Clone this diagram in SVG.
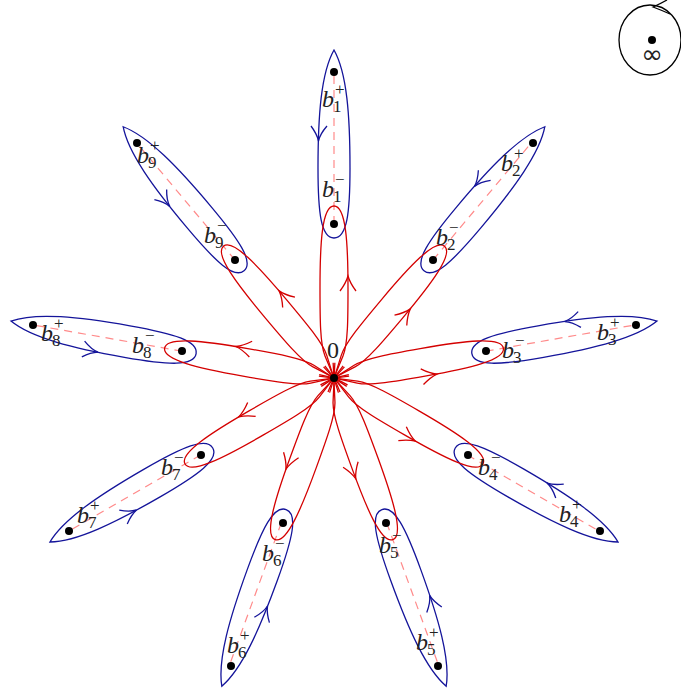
<svg xmlns="http://www.w3.org/2000/svg" xmlns:xlink="http://www.w3.org/1999/xlink" width="681" height="696" viewBox="0 0 681 696">
<style>
.bl{fill:none;stroke:#14149a;stroke-width:1.3}
.rd{fill:none;stroke:#d40000;stroke-width:1.3}
.ds{fill:none;stroke:#ff8a8a;stroke-width:1.2;stroke-dasharray:8 6}
.dot{fill:#000}
.b{font-family:"Liberation Serif",serif;font-style:italic;font-size:24px;fill:#222}
.s{font-family:"Liberation Serif",serif;font-size:17px;fill:#222}
.n{font-family:"Liberation Serif",serif;font-size:24px;fill:#222}
</style>
<defs>
<path id="blueLoop" d="M 0 -328 C 13 -305 16 -262 16 -210 C 16 -165 13 -140 0 -140 C -13 -140 -16 -165 -16 -210 C -16 -262 -13 -305 0 -328 Z"/>
<path id="blueArrow" d="M -23 -252 Q -17 -244 -15.5 -237 Q -14 -244 -7 -252"/>
<path id="redLoop" d="M 6 14 L -9 -22 C -14 -34 -14 -60 -14 -90 C -14 -135 -12 -172 0 -172 C 12 -172 14 -135 14 -90 C 14 -60 14 -34 9 -22 L -6 14"/>
<path id="redArrow" d="M 6 -87 Q 12 -95 14 -102 Q 16 -95 22 -87"/>
<line id="dashLine" x1="0" y1="-154" x2="0" y2="-306"/>
</defs>

<g id="connectors">
<g id="blue-loops" class="bl">
<use xlink:href="#blueLoop" transform="translate(334 378) rotate(0)"/>
<use xlink:href="#blueLoop" transform="translate(334 378) rotate(40)"/>
<use xlink:href="#blueLoop" transform="translate(334 378) rotate(80)"/>
<use xlink:href="#blueLoop" transform="translate(334 378) rotate(120)"/>
<use xlink:href="#blueLoop" transform="translate(334 378) rotate(160)"/>
<use xlink:href="#blueLoop" transform="translate(334 378) rotate(200)"/>
<use xlink:href="#blueLoop" transform="translate(334 378) rotate(240)"/>
<use xlink:href="#blueLoop" transform="translate(334 378) rotate(280)"/>
<use xlink:href="#blueLoop" transform="translate(334 378) rotate(320)"/>
<use xlink:href="#blueArrow" transform="translate(334 378) rotate(0)"/>
<use xlink:href="#blueArrow" transform="translate(334 378) rotate(40)"/>
<use xlink:href="#blueArrow" transform="translate(334 378) rotate(80)"/>
<use xlink:href="#blueArrow" transform="translate(334 378) rotate(120)"/>
<use xlink:href="#blueArrow" transform="translate(334 378) rotate(160)"/>
<use xlink:href="#blueArrow" transform="translate(334 378) rotate(200)"/>
<use xlink:href="#blueArrow" transform="translate(334 378) rotate(240)"/>
<use xlink:href="#blueArrow" transform="translate(334 378) rotate(280)"/>
<use xlink:href="#blueArrow" transform="translate(334 378) rotate(320)"/>
</g>
<g id="cuts" class="ds">
<use xlink:href="#dashLine" transform="translate(334 378) rotate(0)"/>
<use xlink:href="#dashLine" transform="translate(334 378) rotate(40)"/>
<use xlink:href="#dashLine" transform="translate(334 378) rotate(80)"/>
<use xlink:href="#dashLine" transform="translate(334 378) rotate(120)"/>
<use xlink:href="#dashLine" transform="translate(334 378) rotate(160)"/>
<use xlink:href="#dashLine" transform="translate(334 378) rotate(200)"/>
<use xlink:href="#dashLine" transform="translate(334 378) rotate(240)"/>
<use xlink:href="#dashLine" transform="translate(334 378) rotate(280)"/>
<use xlink:href="#dashLine" transform="translate(334 378) rotate(320)"/>
</g>
<g id="red-loops" class="rd">
<use xlink:href="#redLoop" transform="translate(334 378) rotate(0)"/>
<use xlink:href="#redLoop" transform="translate(334 378) rotate(40)"/>
<use xlink:href="#redLoop" transform="translate(334 378) rotate(80)"/>
<use xlink:href="#redLoop" transform="translate(334 378) rotate(120)"/>
<use xlink:href="#redLoop" transform="translate(334 378) rotate(160)"/>
<use xlink:href="#redLoop" transform="translate(334 378) rotate(200)"/>
<use xlink:href="#redLoop" transform="translate(334 378) rotate(240)"/>
<use xlink:href="#redLoop" transform="translate(334 378) rotate(280)"/>
<use xlink:href="#redLoop" transform="translate(334 378) rotate(320)"/>
<use xlink:href="#redArrow" transform="translate(334 378) rotate(0)"/>
<use xlink:href="#redArrow" transform="translate(334 378) rotate(40)"/>
<use xlink:href="#redArrow" transform="translate(334 378) rotate(80)"/>
<use xlink:href="#redArrow" transform="translate(334 378) rotate(120)"/>
<use xlink:href="#redArrow" transform="translate(334 378) rotate(160)"/>
<use xlink:href="#redArrow" transform="translate(334 378) rotate(200)"/>
<use xlink:href="#redArrow" transform="translate(334 378) rotate(240)"/>
<use xlink:href="#redArrow" transform="translate(334 378) rotate(280)"/>
<use xlink:href="#redArrow" transform="translate(334 378) rotate(320)"/>
</g>
<g id="infinity-loop">
<ellipse cx="650" cy="40" rx="31" ry="35" fill="none" stroke="#000" stroke-width="1.3"/>
<path d="M 667 0 Q 660 4 653 7 Q 661 10 670 14" fill="none" stroke="#000" stroke-width="1.3"/>
</g>
</g>

<g id="origin"><circle class="dot" cx="334" cy="378" r="4"/><text class="n" x="333" y="358" text-anchor="middle">0</text></g>
<g id="infinity"><circle class="dot" cx="652" cy="40" r="4"/><text x="652" y="63" text-anchor="middle" font-family="DejaVu Sans, sans-serif" font-size="26" fill="#222">∞</text></g>

<g id="b1p"><circle class="dot" cx="334" cy="72" r="4"/><text class="b" x="322" y="107">b</text><text class="s" x="335" y="95">+</text><text class="s" x="333" y="112">1</text></g>
<g id="b1m"><circle class="dot" cx="334" cy="224" r="4"/><text class="b" x="322" y="197">b</text><text class="s" x="335" y="185">−</text><text class="s" x="333" y="202">1</text></g>
<g id="b2p"><circle class="dot" cx="533" cy="143" r="4"/><text class="b" x="501" y="171">b</text><text class="s" x="514" y="159">+</text><text class="s" x="512" y="176">2</text></g>
<g id="b2m"><circle class="dot" cx="433" cy="260" r="4"/><text class="b" x="436" y="245">b</text><text class="s" x="449" y="233">−</text><text class="s" x="447" y="250">2</text></g>
<g id="b3p"><circle class="dot" cx="636" cy="325" r="4"/><text class="b" x="597" y="340">b</text><text class="s" x="610" y="328">+</text><text class="s" x="608" y="345">3</text></g>
<g id="b3m"><circle class="dot" cx="486" cy="351" r="4"/><text class="b" x="502" y="358">b</text><text class="s" x="515" y="346">−</text><text class="s" x="513" y="363">3</text></g>
<g id="b4p"><circle class="dot" cx="600" cy="531" r="4"/><text class="b" x="559" y="522">b</text><text class="s" x="572" y="510">+</text><text class="s" x="570" y="527">4</text></g>
<g id="b4m"><circle class="dot" cx="468" cy="455" r="4"/><text class="b" x="478" y="475">b</text><text class="s" x="491" y="463">−</text><text class="s" x="489" y="480">4</text></g>
<g id="b5p"><circle class="dot" cx="438" cy="666" r="4"/><text class="b" x="416" y="650">b</text><text class="s" x="429" y="638">+</text><text class="s" x="427" y="655">5</text></g>
<g id="b5m"><circle class="dot" cx="386" cy="523" r="4"/><text class="b" x="379" y="553">b</text><text class="s" x="392" y="541">−</text><text class="s" x="390" y="558">5</text></g>
<g id="b6p"><circle class="dot" cx="231" cy="666" r="4"/><text class="b" x="227" y="653">b</text><text class="s" x="240" y="641">+</text><text class="s" x="238" y="658">6</text></g>
<g id="b6m"><circle class="dot" cx="283" cy="523" r="4"/><text class="b" x="262" y="561">b</text><text class="s" x="275" y="549">−</text><text class="s" x="273" y="566">6</text></g>
<g id="b7p"><circle class="dot" cx="69" cy="531" r="4"/><text class="b" x="77" y="523">b</text><text class="s" x="90" y="511">+</text><text class="s" x="88" y="528">7</text></g>
<g id="b7m"><circle class="dot" cx="201" cy="455" r="4"/><text class="b" x="161" y="475">b</text><text class="s" x="174" y="463">−</text><text class="s" x="172" y="480">7</text></g>
<g id="b8p"><circle class="dot" cx="33" cy="325" r="4"/><text class="b" x="41" y="341">b</text><text class="s" x="54" y="329">+</text><text class="s" x="52" y="346">8</text></g>
<g id="b8m"><circle class="dot" cx="182" cy="351" r="4"/><text class="b" x="132" y="353">b</text><text class="s" x="145" y="341">−</text><text class="s" x="143" y="358">8</text></g>
<g id="b9p"><circle class="dot" cx="137" cy="143" r="4"/><text class="b" x="137" y="163">b</text><text class="s" x="150" y="151">+</text><text class="s" x="148" y="168">9</text></g>
<g id="b9m"><circle class="dot" cx="235" cy="260" r="4"/><text class="b" x="204" y="243">b</text><text class="s" x="217" y="231">−</text><text class="s" x="215" y="248">9</text></g>
</svg>
